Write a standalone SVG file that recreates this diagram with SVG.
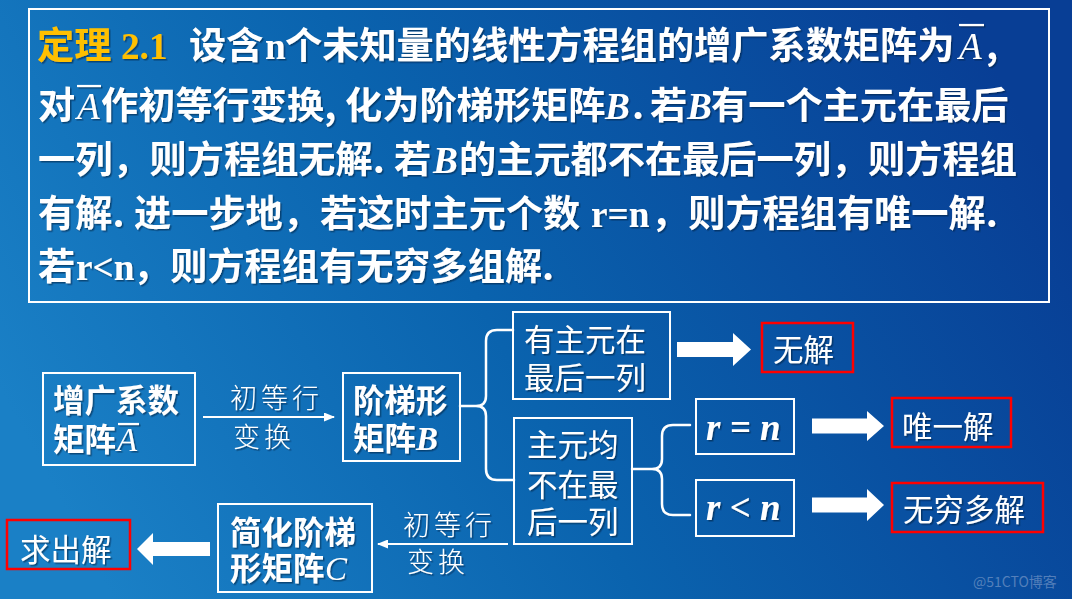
<svg xmlns="http://www.w3.org/2000/svg" width="1072" height="599" viewBox="0 0 1072 599">
<defs>
  <linearGradient id="bg" x1="0" y1="0.65" x2="1" y2="0.35">
    <stop offset="0" stop-color="#1a80c6"/>
    <stop offset="0.45" stop-color="#0a63ae"/>
    <stop offset="1" stop-color="#083e95"/>
  </linearGradient>
  <filter id="sh" x="-5%" y="-5%" width="110%" height="115%">
    <feDropShadow dx="1.5" dy="1.5" stdDeviation="0.6" flood-color="#001a40" flood-opacity="0.55"/>
  </filter>
  <marker id="ah" markerWidth="11" markerHeight="9" refX="10" refY="4.5" orient="auto" markerUnits="userSpaceOnUse">
    <path d="M0,0 L11,4.5 L0,9 z" fill="#ffffff"/>
  </marker>
</defs>
<style>
  .cjk { font-family: "Noto Sans CJK SC", "Noto Sans", sans-serif; fill: #ffffff; }
  .t { font-size: 37.2px; font-weight: bold; }
  .tm { font-family: "Liberation Serif", "Noto Sans CJK SC", serif; }
  .it { font-family: "Liberation Serif", serif; font-style: italic; }
  .gold { fill: #ffc000; }
  .bx { fill: none; stroke: #ffffff; stroke-width: 2; }
  .red { fill: none; stroke: #ff0000; stroke-width: 2.5; }
  .nb { font-size: 31.5px; font-weight: bold; }
  .nr { font-size: 30.5px; font-weight: normal; }
  .lbl { font-size: 27px; font-weight: 300; letter-spacing: 4px; }
  .ovl { stroke: #ffffff; stroke-width: 2.2; }
  .conn { fill: none; stroke: #ffffff; stroke-width: 2.5; stroke-linecap: round; stroke-linejoin: round; }
  .thin { fill: none; stroke: #ffffff; stroke-width: 2.2; }
  .blk { fill: #ffffff; }
  .math { font-family: "Liberation Serif", serif; font-style: italic; font-weight: bold; font-size: 37px; fill: #ffffff; }
</style>

<rect x="0" y="0" width="1072" height="599" fill="url(#bg)"/>

<g id="theorem">
  <rect class="bx" x="29" y="9" width="1020" height="293"/>
  <g filter="url(#sh)">
    <text class="cjk t" y="59"><tspan x="37" class="gold">定理</tspan><tspan x="121" class="tm gold">2.1</tspan><tspan x="189">设含</tspan><tspan x="265" class="tm">n</tspan><tspan x="285">个未知量的线性方程组的增广系数矩阵为</tspan><tspan x="959" class="it" font-weight="normal">A</tspan><tspan x="986">,</tspan></text>
    <line class="ovl" x1="959" y1="25" x2="984" y2="25"/>
    <text class="cjk t" y="119"><tspan x="38">对</tspan><tspan x="77" class="it" font-weight="normal">A</tspan><tspan x="101">作初等行变换,</tspan><tspan x="345">化为阶梯形矩阵</tspan><tspan x="605" class="it">B</tspan><tspan x="632">.</tspan><tspan x="650">若</tspan><tspan x="687" class="it">B</tspan><tspan x="711">有一个主元在最后</tspan></text>
    <line class="ovl" x1="77" y1="86" x2="101" y2="86"/>
    <text class="cjk t" y="173"><tspan x="38">一列，则方程组无解.</tspan><tspan x="394">若</tspan><tspan x="433" class="it">B</tspan><tspan x="459">的主元都不在最后一列，则方程组</tspan></text>
    <text class="cjk t" y="227"><tspan x="38">有解.</tspan><tspan x="134">进一步地，若这时主元个数</tspan><tspan x="591" class="tm">r=n</tspan><tspan x="651">，则方程组有唯一解.</tspan></text>
    <text class="cjk t" y="280"><tspan x="38">若</tspan><tspan x="76" class="tm">r&lt;n</tspan><tspan x="133">，则方程组有无穷多组解.</tspan></text>
  </g>
</g>

<g id="connectors">
  <line class="thin" x1="203" y1="417" x2="334" y2="417" marker-end="url(#ah)"/>
  <line class="thin" x1="508" y1="544" x2="378" y2="544" marker-end="url(#ah)"/>
  <path class="conn" d="M513,330 H497 Q486,330 486,341 V396 Q486,406 476,406 H460 M476,406 Q486,406 486,416 V469 Q486,480 497,480 H514"/>
  <path class="conn" d="M690,425 H673 Q662,425 662,436 V459 Q662,469 652,469 H632 M652,469 Q662,469 662,479 V504 Q662,515 673,515 H690"/>
  <polygon class="blk" points="677,342 733,342 733,333 751,349.5 733,366 733,357 677,357"/>
  <polygon class="blk" points="812,418.5 867,418.5 867,411 884,426 867,441 867,433.5 812,433.5"/>
  <polygon class="blk" points="812,497.5 867,497.5 867,489 884,505 867,521 867,512.5 812,512.5"/>
  <polygon class="blk" points="210,542 153,542 153,533 137,549 153,565 153,556 210,556"/>
  <g filter="url(#sh)">
    <text class="cjk lbl" x="230" y="408">初等行</text>
    <text class="cjk lbl" x="233" y="447">变换</text>
    <text class="cjk lbl" x="403" y="535">初等行</text>
    <text class="cjk lbl" x="407" y="572">变换</text>
  </g>
</g>

<g id="nodeA">
  <rect class="bx" x="43" y="373" width="152" height="92"/>
  <g filter="url(#sh)">
    <text class="cjk nb" x="53" y="412">增广系数</text>
    <text class="cjk nb" y="451"><tspan x="53">矩阵</tspan><tspan x="117" class="it" font-weight="normal" font-size="33px">A</tspan></text>
    <line class="ovl" x1="118" y1="424" x2="139" y2="424"/>
  </g>
</g>

<g id="nodeB">
  <rect class="bx" x="343" y="373" width="117" height="88"/>
  <g filter="url(#sh)">
    <text class="cjk nb" x="353" y="412">阶梯形</text>
    <text class="cjk nb" y="450"><tspan x="353">矩阵</tspan><tspan x="416" class="it" font-size="33px">B</tspan></text>
  </g>
</g>

<g id="nodeLast">
  <rect class="bx" x="513" y="312" width="157" height="87"/>
  <g filter="url(#sh)">
    <text class="cjk nr" x="524" y="351">有主元在</text>
    <text class="cjk nr" x="524" y="389">最后一列</text>
  </g>
</g>

<g id="nodeNotLast">
  <rect class="bx" x="514" y="418" width="118" height="126"/>
  <g filter="url(#sh)">
    <text class="cjk nr" x="527" y="456">主元均</text>
    <text class="cjk nr" x="527" y="496">不在最</text>
    <text class="cjk nr" x="527" y="533">后一列</text>
  </g>
</g>

<g id="nodeReq">
  <rect class="bx" x="696" y="399" width="98" height="55"/>
  <text class="math" x="706" y="440" filter="url(#sh)">r = n</text>
</g>

<g id="nodeRlt">
  <rect class="bx" x="696" y="480" width="98" height="56"/>
  <text class="math" x="706" y="520" filter="url(#sh)">r &lt; n</text>
</g>

<g id="nodeNoSol">
  <rect class="red" x="762" y="323" width="91" height="49"/>
  <text class="cjk nr" x="773" y="361" filter="url(#sh)">无解</text>
</g>

<g id="nodeUnique">
  <rect class="red" x="892" y="398" width="119" height="49"/>
  <text class="cjk nr" x="902" y="438" filter="url(#sh)">唯一解</text>
</g>

<g id="nodeInfinite">
  <rect class="red" x="892" y="483" width="151" height="49"/>
  <text class="cjk nr" x="903" y="521" filter="url(#sh)">无穷多解</text>
</g>

<g id="nodeC">
  <rect class="bx" x="218" y="504" width="154" height="88"/>
  <g filter="url(#sh)">
    <text class="cjk nb" x="230" y="544">简化阶梯</text>
    <text class="cjk nb" y="580"><tspan x="230">形矩阵</tspan><tspan x="325" class="it" font-weight="normal" font-size="33px">C</tspan></text>
  </g>
</g>

<g id="nodeSolve">
  <rect class="red" x="7" y="520" width="123" height="49"/>
  <text class="cjk nr" x="20" y="561" filter="url(#sh)">求出解</text>
</g>

<text x="973" y="587" font-family="'Noto Sans CJK SC', 'Noto Sans', sans-serif" font-size="14px" fill="#9fb3d6" fill-opacity="0.5">@51CTO博客</text>
</svg>
